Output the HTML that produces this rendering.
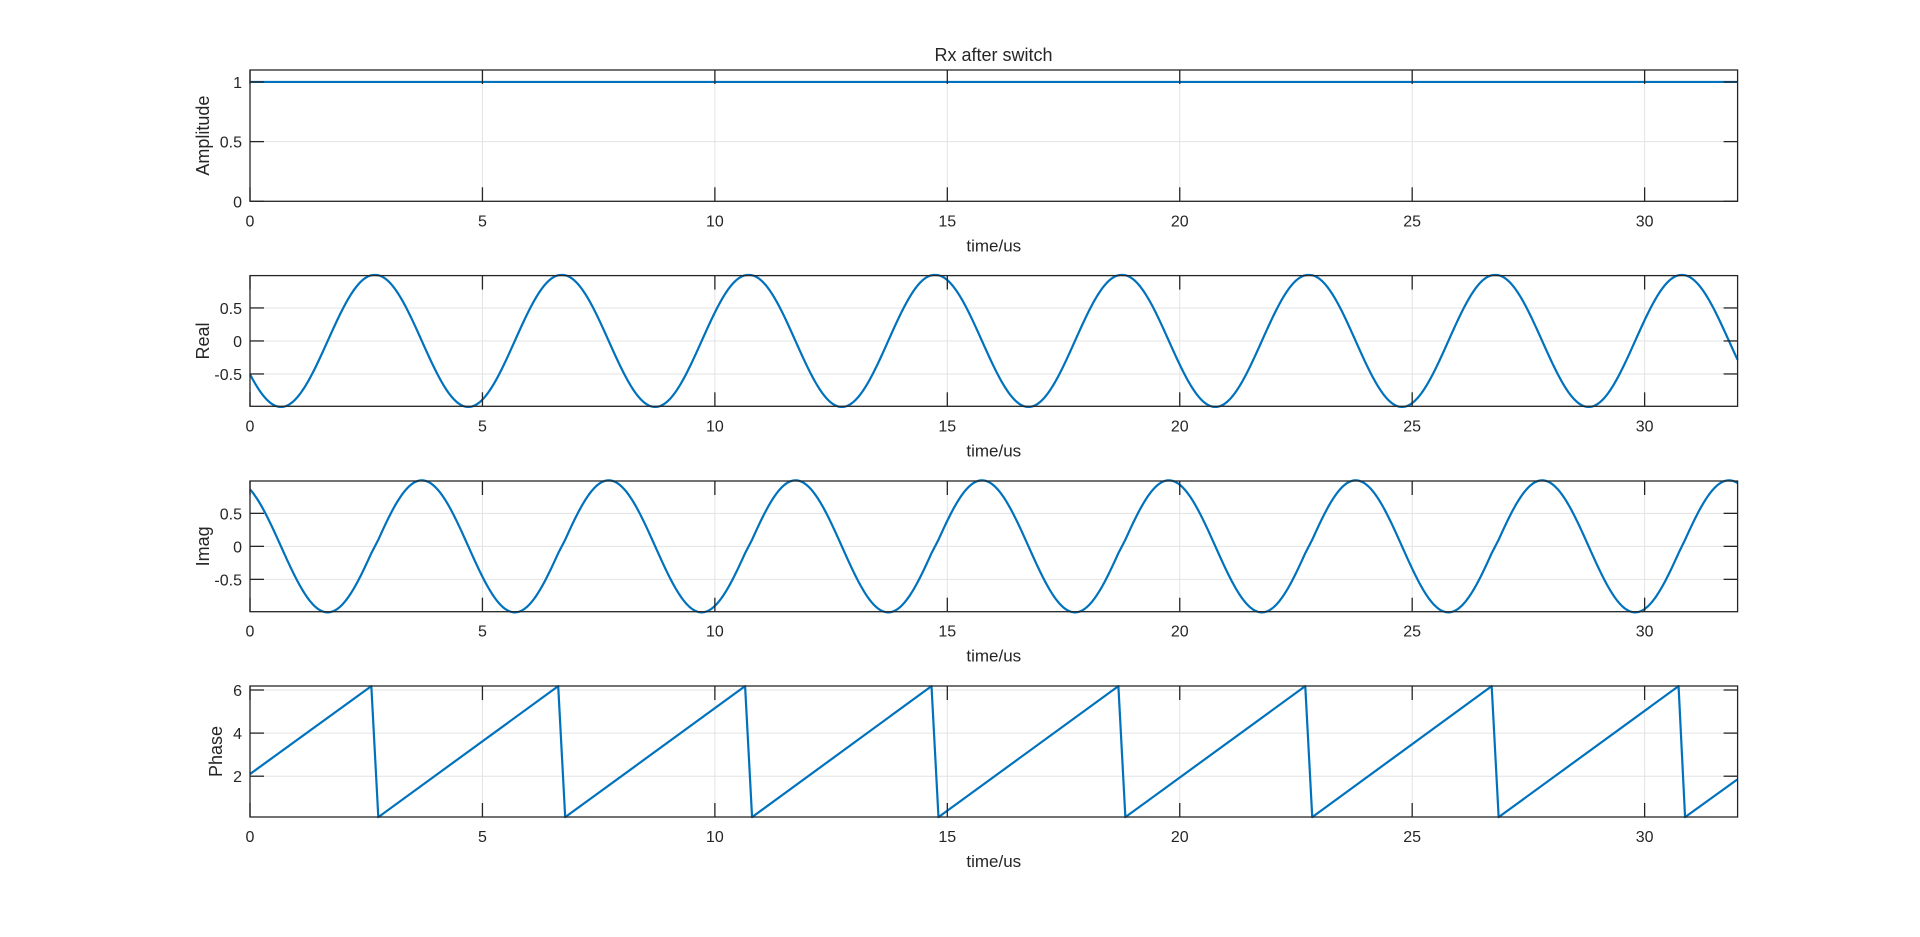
<!DOCTYPE html>
<html><head><meta charset="utf-8"><style>
html,body{margin:0;padding:0;background:#fff;}
svg{display:block;}
text{font-family:"Liberation Sans",Arial,sans-serif;fill:#262626;}
</style></head><body>
<svg id="fig" width="1920" height="937" viewBox="0 0 1920 937" xmlns="http://www.w3.org/2000/svg">
<rect width="1920" height="937" fill="#fff"/>
<text x="993.5" y="61" font-size="18" text-anchor="middle">Rx after switch</text>
</svg>
<script>
// ---- data ----
const xTicks = [0, 5, 10, 15, 20, 25, 30];
const ampTicks = [0, 0.5, 1];
const sineTicks = [-0.5, 0, 0.5];
const phaseTicks = [2, 4, 6];
const ampTimes = [0, 32];
const ampValues = [1, 1];
// phase sawtooth vertices (time in us, phase in rad)
const phaseTimes = [0, 2.61, 2.76, 6.63, 6.78, 10.65, 10.80, 14.66, 14.81, 18.68, 18.83, 22.70, 22.85, 26.71, 26.86, 30.73, 30.87, 32];
const phaseValues = [2.10, 6.18, 0.10, 6.18, 0.10, 6.18, 0.10, 6.18, 0.10, 6.18, 0.10, 6.18, 0.10, 6.18, 0.10, 6.18, 0.10, 1.86];

const NS = 'http://www.w3.org/2000/svg';
const svg = document.getElementById('fig');
const L = 250, R = 1737.6, W = R - L;
const panels = [
  {name:'amplitude', top:70, h:131.3, ymin:0, ymax:1.1, ticks:ampTicks, label:'Amplitude'},
  {name:'real', top:275.6, h:130.7, ymin:-0.99, ymax:0.99, ticks:sineTicks, label:'Real'},
  {name:'imag', top:481, h:130.7, ymin:-0.99, ymax:0.99, ticks:sineTicks, label:'Imag'},
  {name:'phase', top:686, h:131, ymin:0.107, ymax:6.186, ticks:phaseTicks, label:'Phase'}
];
function el(tag, attrs, parent){const e=document.createElementNS(NS,tag);for(const k in attrs)e.setAttribute(k,attrs[k]);(parent||svg).appendChild(e);return e;}
function xs(t){return L + t/32*W;}
// unwrap phase so the sinusoids are continuous across wrap points
const unwrapped = [];
(function(){let off=0;for(let i=0;i<phaseValues.length;i++){if(i>0&&phaseValues[i]<phaseValues[i-1]-3)off+=2*Math.PI;unwrapped.push(phaseValues[i]+off);}})();
function phaseAt(t){
  for(let i=0;i<phaseTimes.length-1;i++){
    if(t<=phaseTimes[i+1]){const f=(t-phaseTimes[i])/(phaseTimes[i+1]-phaseTimes[i]);return unwrapped[i]+f*(unwrapped[i+1]-unwrapped[i]);}
  }
  return unwrapped[unwrapped.length-1];
}
const sampleT=[];for(let t=0;t<=32.0001;t+=0.02)sampleT.push(t);

panels.forEach(p=>{
  const g = el('g',{});
  
  
  const ys = v => p.top + p.h - (v-p.ymin)/(p.ymax-p.ymin)*p.h;
  const bot = p.top + p.h;
  xTicks.forEach(t=>{const l=el('line',{x1:xs(t),x2:xs(t),y1:p.top,y2:bot,stroke:'#e3e3e3','stroke-width':1},g);
    
    });
  p.ticks.forEach(v=>{const l=el('line',{x1:L,x2:R,y1:ys(v),y2:ys(v),stroke:'#e3e3e3','stroke-width':1},g);
    
    });
  let pts=[];
  if(p.name==='amplitude'){pts=ampTimes.map((t,i)=>[xs(t),ys(ampValues[i])]);}
  else if(p.name==='phase'){pts=phaseTimes.map((t,i)=>[xs(t),ys(phaseValues[i])]);}
  else {pts=sampleT.map(t=>{const ph=phaseAt(t);return [xs(t),ys(p.name==='real'?Math.cos(ph):Math.sin(ph))];});}
  const line=el('polyline',{points:pts.map(q=>q[0].toFixed(2)+','+q[1].toFixed(2)).join(' '),fill:'none',stroke:'#0072BD','stroke-width':2.2,'stroke-linejoin':'round'},g);
  
  
  const box=el('rect',{x:L,y:p.top,width:W,height:p.h,fill:'none',stroke:'#262626','stroke-width':1.3},g);
  
  
  xTicks.forEach(t=>{
    el('line',{x1:xs(t),x2:xs(t),y1:bot,y2:bot-14,stroke:'#262626','stroke-width':1.3},g);
    el('line',{x1:xs(t),x2:xs(t),y1:p.top,y2:p.top+14,stroke:'#262626','stroke-width':1.3},g);
    const tx=el('text',{x:xs(t),y:bot+25,'font-size':16,'text-anchor':'middle'},g);
    tx.textContent=t;
    
    
  });
  p.ticks.forEach(v=>{
    el('line',{x1:L,x2:L+14,y1:ys(v),y2:ys(v),stroke:'#262626','stroke-width':1.3},g);
    el('line',{x1:R,x2:R-14,y1:ys(v),y2:ys(v),stroke:'#262626','stroke-width':1.3},g);
    const tx=el('text',{x:L-8,y:ys(v)+6,'font-size':16,'text-anchor':'end'},g);
    tx.textContent=v;
    
    
  });
  const xl=el('text',{x:(L+R)/2,y:bot+50,'font-size':17,'text-anchor':'middle'},g);
  xl.textContent='time/us';
  
  
  const lx = p.name==='phase'?222:209;
  const yl=el('text',{x:lx,y:p.top+p.h/2,'font-size':18,'text-anchor':'middle',transform:`rotate(-90 ${lx} ${p.top+p.h/2})`},g);
  yl.textContent=p.label;
  
  
});
</script>
</body></html>
